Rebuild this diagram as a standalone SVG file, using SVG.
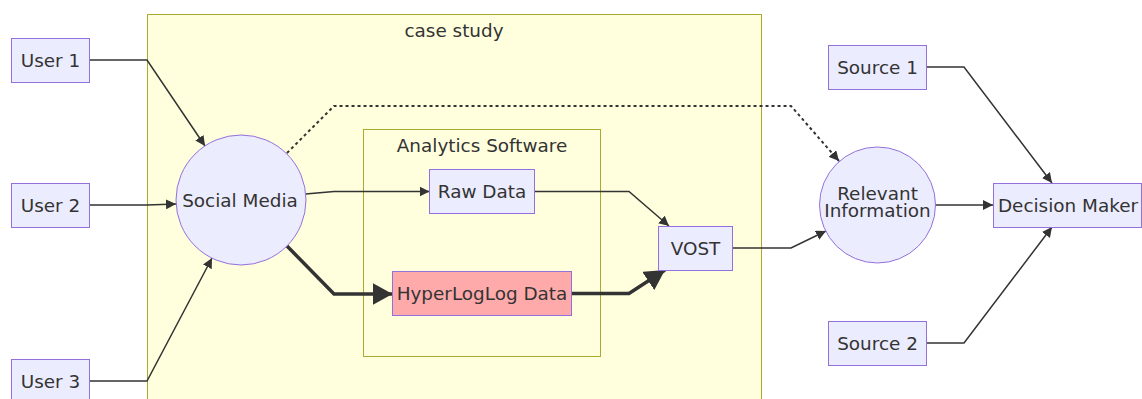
<svg xmlns="http://www.w3.org/2000/svg" width="1142" height="399" viewBox="0 0 1142 399">
<style>
text{font-family:"DejaVu Sans",Verdana,sans-serif;font-size:18.4px;fill:#333;text-anchor:middle;dominant-baseline:central}
.node rect,.node circle{fill:#ECECFF;stroke:#9370DB;stroke-width:1}
.cluster{fill:#ffffde;stroke:#aaaa33;stroke-width:1}
.edge{fill:none;stroke:#333;stroke-width:1.5}
.thick{stroke-width:3.5}
.dotted{stroke-width:2;stroke-dasharray:3 3}
</style>
<defs>
<marker id="arr" markerUnits="userSpaceOnUse" viewBox="0 0 10 10" refX="10" refY="5" markerWidth="10" markerHeight="10" orient="auto"><path d="M0,0L10,5L0,10z" fill="#333"/></marker>
<marker id="arrT" markerUnits="userSpaceOnUse" viewBox="0 0 20 22" refX="20" refY="11" markerWidth="20" markerHeight="22" orient="auto"><path d="M0,0L20,11L0,22z" fill="#333"/></marker>
</defs>
<g id="cluster-case-study"><rect class="cluster" x="147.5" y="14.5" width="614" height="400"/><text x="454" y="30">case study</text></g>
<g id="cluster-analytics"><rect class="cluster" x="363.5" y="129.5" width="237" height="227"/><text x="482" y="145">Analytics Software</text></g>
<g id="connectors">
<path class="edge" d="M89.5,60H147L205,146" marker-end="url(#arr)"/>
<path class="edge" d="M89.5,205H147L176,204" marker-end="url(#arr)"/>
<path class="edge" d="M89.5,381H147L212,258" marker-end="url(#arr)"/>
<path class="edge" d="M305.5,194L334,191.5H429.5" marker-end="url(#arr)"/>
<path class="edge thick" d="M287,246L334,294H392.5" marker-end="url(#arrT)"/>
<path class="edge" d="M534.5,191.5H629L669,226" marker-end="url(#arr)"/>
<path class="edge thick" d="M571.5,293.5H629L665,270" marker-end="url(#arrT)"/>
<path class="edge" d="M732.5,248H791L826,231" marker-end="url(#arr)"/>
<path class="edge dotted" d="M287,153L334,106H791L839,161" marker-end="url(#arr)"/>
<path class="edge" d="M935.5,205H993" marker-end="url(#arr)"/>
<path class="edge" d="M926.5,67H964L1052,183" marker-end="url(#arr)"/>
<path class="edge" d="M926.5,343H964L1052,227" marker-end="url(#arr)"/>
</g>
<g id="user1" class="node"><rect x="11.5" y="38.5" width="78" height="44"/><text x="50.5" y="60">User 1</text></g>
<g id="user2" class="node"><rect x="11.5" y="183.5" width="78" height="44"/><text x="50.5" y="205">User 2</text></g>
<g id="user3" class="node"><rect x="11.5" y="359.5" width="78" height="44"/><text x="50.5" y="381">User 3</text></g>
<g id="social-media" class="node"><circle cx="241" cy="200" r="65"/><text x="240" y="200">Social Media</text></g>
<g id="raw-data" class="node"><rect x="429.5" y="169.5" width="105" height="44"/><text x="482" y="191.5">Raw Data</text></g>
<g id="hll-data" class="node"><rect x="392.5" y="271.5" width="179" height="44" style="fill:#ffaaaa"/><text x="482" y="293.5">HyperLogLog Data</text></g>
<g id="vost" class="node"><rect x="658.5" y="226.5" width="74" height="44"/><text x="695.5" y="248">VOST</text></g>
<g id="relevant-info" class="node"><circle cx="877.5" cy="205" r="58"/><text x="877.5" y="193">Relevant</text><text x="877.5" y="210">Information</text></g>
<g id="decision-maker" class="node"><rect x="993.5" y="183.5" width="148" height="44"/><text x="1068" y="205">Decision Maker</text></g>
<g id="source1" class="node"><rect x="828.5" y="45.5" width="98" height="44"/><text x="877.5" y="67">Source 1</text></g>
<g id="source2" class="node"><rect x="828.5" y="321.5" width="98" height="44"/><text x="877.5" y="343">Source 2</text></g>
</svg>
